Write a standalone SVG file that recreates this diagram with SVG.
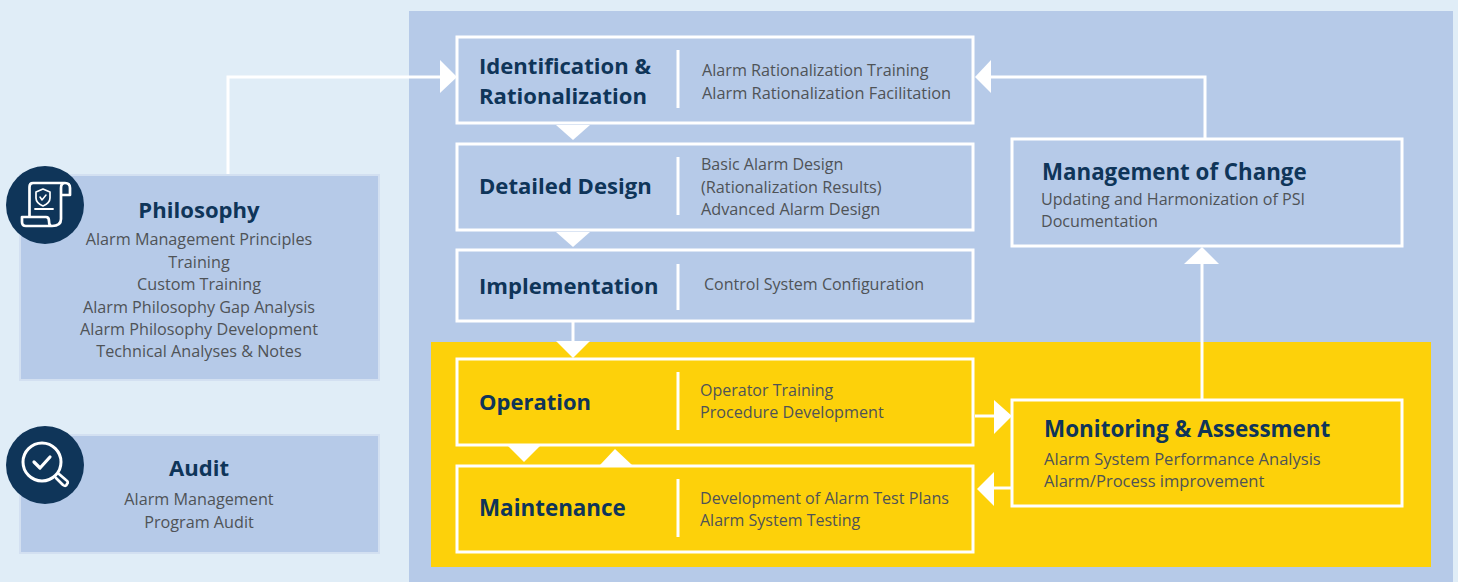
<svg xmlns="http://www.w3.org/2000/svg" width="1458" height="582" viewBox="0 0 1458 582">
<style>
text{font-family:"Open Sans","Noto Sans","Liberation Sans",sans-serif}
.t{font-size:22.1px;font-weight:700;fill:#0f3559}
.d{font-size:16.2px;fill:#4f5357}
.m{text-anchor:middle}
.b{fill:none;stroke:#fff;stroke-width:3}
.s{fill:#b6cae8;stroke:#d3e0f1;stroke-width:2}
.c{fill:none;stroke:#fff;stroke-width:3}
.a{fill:#fff}
.i{fill:none;stroke:#fff;stroke-width:2.7;stroke-linecap:round;stroke-linejoin:round}
</style>
<rect width="1458" height="582" fill="#e0edf7"/>
<rect x="409" y="11" width="1044" height="571" fill="#b6cae8"/>
<rect x="431" y="342" width="1000" height="225" fill="#fdd10a"/>
<g id="connectors">
<path class="c" d="M228 176V77H442"/><path class="a" d="M440 60L457 77L440 93Z"/>
<path class="a" d="M556 125H590L573 140Z"/>
<path class="a" d="M556 232H590L573 247Z"/>
<path class="c" d="M573 322V342"/><path class="a" d="M556 341H590L573 358Z"/>
<path class="a" d="M508 446H540L524 462Z"/>
<path class="a" d="M600 465H632L615 449Z"/>
<path class="c" d="M975 416H996"/><path class="a" d="M994 400L1012 416L994 434Z"/>
<path class="c" d="M1012 488H992"/><path class="a" d="M994 472L977 489L994 506Z"/>
<path class="c" d="M1202 399V262"/><path class="a" d="M1184 264H1219L1202 247Z"/>
<path class="c" d="M1205 138V77H990"/><path class="a" d="M991 60L975 77L991 93Z"/>
</g>
<g id="philosophy">
<rect class="s" x="20" y="175" width="359" height="205"/>
<text class="t m" x="199" y="218">Philosophy</text>
<text class="d m" x="199" y="245">Alarm Management Principles</text>
<text class="d m" x="199" y="268">Training</text>
<text class="d m" x="199" y="290">Custom Training</text>
<text class="d m" x="199" y="313">Alarm Philosophy Gap Analysis</text>
<text class="d m" x="199" y="335">Alarm Philosophy Development</text>
<text class="d m" x="199" y="357">Technical Analyses &amp; Notes</text>
<circle cx="45" cy="205" r="39" fill="#0f3559"/>
<path class="i" d="M33 183H65Q70 183 70 188V195H61M61 188V219Q61 226 52 226H26Q22 226 22 222V217H29.5V187Q29.5 183 33 183M22 217H46Q49 217 49 221Q49 226 52 226M61 188Q61 183 65 183"/>
<path class="i" d="M43 189L50 192V198Q50 203 43 206Q36 203 36 198V192Z" style="stroke-width:1.7"/>
<path class="i" d="M40 197L42 200L46 195" style="stroke-width:1.5"/>
<path class="i" d="M35 209H53" style="stroke-width:1.8"/>
</g>
<g id="audit">
<rect class="s" x="20" y="435" width="359" height="118"/>
<text class="t m" x="199" y="476">Audit</text>
<text class="d m" x="199" y="505">Alarm Management</text>
<text class="d m" x="199" y="528">Program Audit</text>
<circle cx="45" cy="465" r="39" fill="#0f3559"/>
<circle class="i" cx="42" cy="462" r="19" style="stroke-width:3"/>
<path class="i" d="M34 462L40 468L50 457" style="stroke-width:3.2"/>
<path class="i" d="M56 478L63 485Q66 487 67 484Q69 482 66 480L59 474"/>
</g>
<g id="identification">
<rect class="b" x="457" y="37" width="516" height="86"/>
<text class="t" x="479" y="74">Identification &amp;</text>
<text class="t" x="479" y="104">Rationalization</text>
<path class="c" d="M678 50V108"/>
<text class="d" x="702" y="76">Alarm Rationalization Training</text>
<text class="d" x="702" y="99" style="font-size:16.35px">Alarm Rationalization Facilitation</text>
</g>
<g id="design">
<rect class="b" x="457" y="144" width="516" height="86"/>
<text class="t" x="479" y="194">Detailed Design</text>
<path class="c" d="M678 157V215"/>
<text class="d" x="701" y="170" style="font-size:16.05px">Basic Alarm Design</text>
<text class="d" x="701" y="193" style="font-size:16.25px">(Rationalization Results)</text>
<text class="d" x="701" y="215" style="font-size:16.25px">Advanced Alarm Design</text>
</g>
<g id="implementation">
<rect class="b" x="457" y="250" width="516" height="71"/>
<text class="t" x="479" y="294">Implementation</text>
<path class="c" d="M678 264V310"/>
<text class="d" x="704" y="290" style="font-size:16.05px">Control System Configuration</text>
</g>
<g id="operation">
<rect class="b" x="457" y="359" width="516" height="86"/>
<text class="t" x="479" y="410" style="font-size:22px">Operation</text>
<path class="c" d="M678 372V430"/>
<text class="d" x="700" y="396" style="font-size:16px">Operator Training</text>
<text class="d" x="700" y="418" style="font-size:16.15px">Procedure Development</text>
</g>
<g id="maintenance">
<rect class="b" x="457" y="466" width="516" height="86"/>
<text class="t" x="479" y="516" style="font-size:22.4px">Maintenance</text>
<path class="c" d="M678 479V537"/>
<text class="d" x="700" y="504" style="font-size:16.1px">Development of Alarm Test Plans</text>
<text class="d" x="700" y="526" style="font-size:16px">Alarm System Testing</text>
</g>
<g id="change">
<rect class="b" x="1012" y="139" width="390" height="107"/>
<text class="t" x="1042" y="180" style="font-size:22.3px">Management of Change</text>
<text class="d" x="1041" y="205" style="font-size:16.1px">Updating and Harmonization of PSI</text>
<text class="d" x="1041" y="227" style="font-size:16.1px">Documentation</text>
</g>
<g id="monitoring">
<rect class="b" x="1012" y="400" width="390" height="106"/>
<text class="t" x="1044" y="437" style="font-size:22.45px">Monitoring &amp; Assessment</text>
<text class="d" x="1044" y="465" style="font-size:16.55px">Alarm System Performance Analysis</text>
<text class="d" x="1044" y="487" style="font-size:16.55px">Alarm/Process improvement</text>
</g>
</svg>
